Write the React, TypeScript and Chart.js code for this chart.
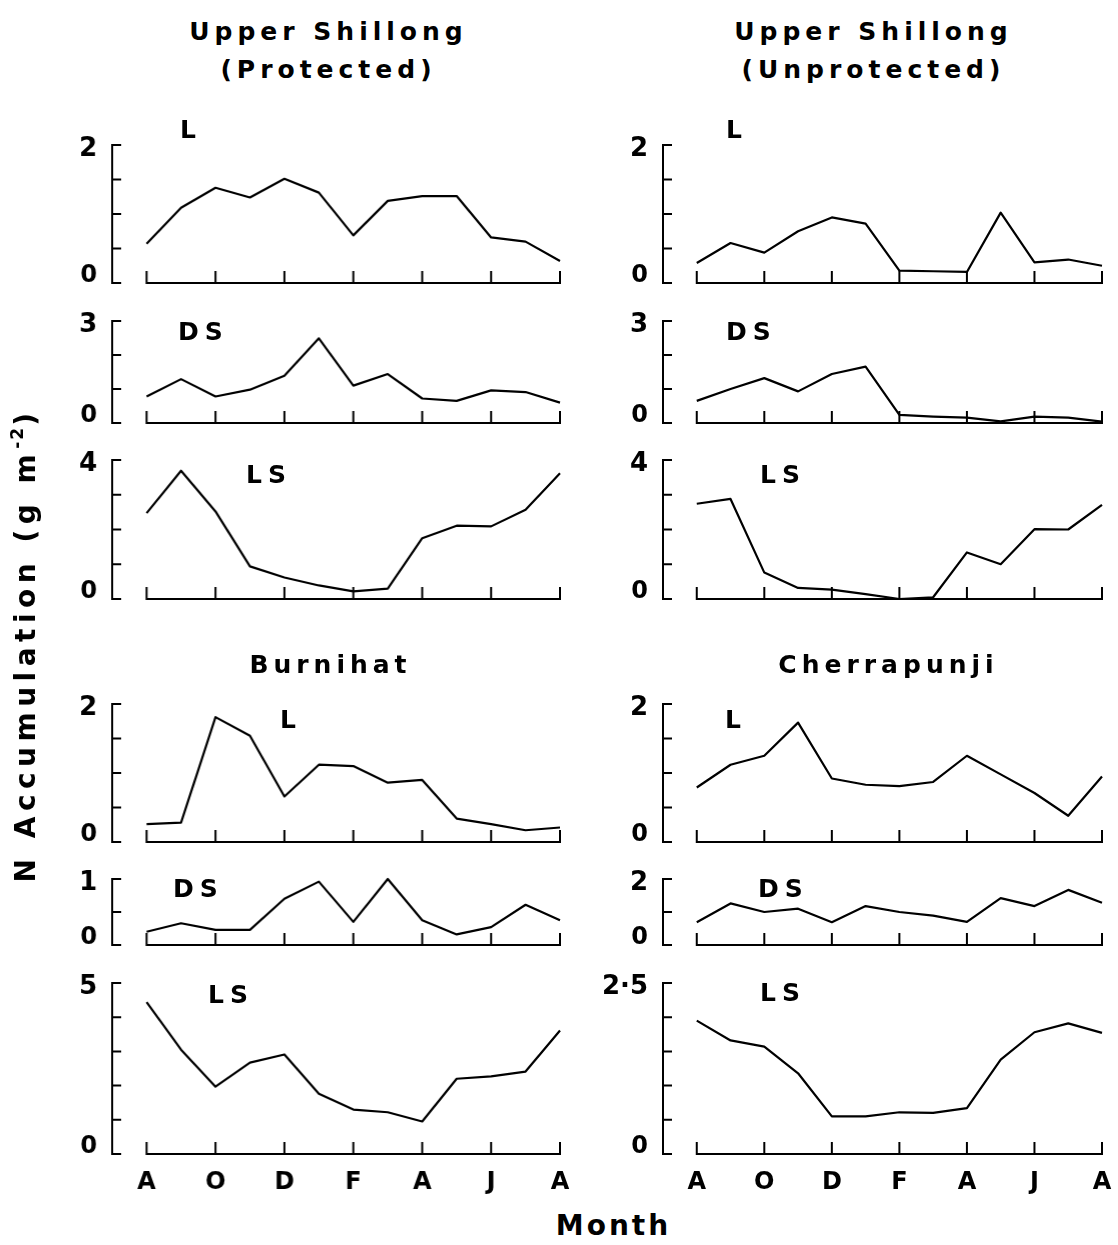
import React, { useEffect, useRef } from 'react';
import { Chart, registerables } from 'chart.js';

Chart.register(...registerables);

// ---------- data ----------
const months = ['A', 'S', 'O', 'N', 'D', 'J', 'F', 'M', 'A', 'M', 'J', 'J', 'A'];
const monthTickIndex = [0, 2, 4, 6, 8, 10, 12];
const siteTitles = [
  ['Upper Shillong', '(Protected)'],
  ['Upper Shillong', '(Unprotected)'],
  ['Burnihat'],
  ['Cherrapunji'],
];
const componentLabels = ['L', 'DS', 'LS'];

const upProtL = [0.57, 1.09, 1.38, 1.24, 1.51, 1.31, 0.69, 1.19, 1.26, 1.26, 0.66, 0.6, 0.32];
const upProtDS = [0.78, 1.29, 0.78, 0.98, 1.39, 2.49, 1.1, 1.44, 0.72, 0.65, 0.96, 0.91, 0.6];
const upProtLS = [2.47, 3.69, 2.52, 0.94, 0.62, 0.39, 0.22, 0.3, 1.75, 2.11, 2.09, 2.57, 3.62];

const upUnprotL = [0.29, 0.58, 0.44, 0.75, 0.95, 0.86, 0.18, 0.17, 0.16, 1.02, 0.3, 0.34, 0.25];
const upUnprotDS = [0.65, 1.0, 1.32, 0.93, 1.44, 1.66, 0.24, 0.19, 0.16, 0.05, 0.19, 0.16, 0.04];
const upUnprotLS = [2.74, 2.88, 0.76, 0.32, 0.27, 0.14, 0.0, 0.05, 1.34, 1.0, 2.01, 2.0, 2.71];

const burL = [0.26, 0.28, 1.81, 1.54, 0.66, 1.12, 1.1, 0.86, 0.9, 0.34, 0.26, 0.17, 0.21];
const burDS = [0.2, 0.33, 0.23, 0.23, 0.7, 0.96, 0.35, 1.0, 0.375, 0.16, 0.27, 0.61, 0.375];
const burLS = [4.44, 3.05, 1.97, 2.67, 2.91, 1.76, 1.3, 1.22, 0.95, 2.2, 2.27, 2.41, 3.61];

const cherL = [0.79, 1.12, 1.25, 1.73, 0.92, 0.83, 0.81, 0.87, 1.25, 0.98, 0.71, 0.38, 0.95];
const cherDS = [0.69, 1.26, 1.0, 1.1, 0.69, 1.18, 1.0, 0.89, 0.7, 1.42, 1.18, 1.67, 1.28];
const cherLS = [1.95, 1.66, 1.57, 1.18, 0.55, 0.55, 0.61, 0.6, 0.67, 1.38, 1.78, 1.91, 1.77];

// axis ranges (max, step) per panel, row-major
const yMaxes = [2, 2, 3, 3, 4, 4, 2, 2, 1, 2, 5, 2.5];
const ySteps = [0.5, 0.5, 1, 1, 1, 1, 0.5, 0.5, 0.5, 1, 1, 0.5];
const seriesList = [upProtL, upUnprotL, upProtDS, upUnprotDS, upProtLS, upUnprotLS, burL, cherL, burDS, cherDS, burLS, cherLS];

// ---------- layout ----------
const FONT = '"DejaVu Sans", "Liberation Sans", sans-serif';
const colAxis = [112, 663];
const colEnd = [559.5, 1102];
const rowTop = [145, 321, 460, 704, 879, 983];
const rowBase = [283, 423, 599, 842, 945, 1154];
const PAD_L = 90;
const PAD_R = 12;
const PAD_T = 24;
const PAD_B = 10;
const XLAB_H = 42;
// panel label [left, capTop], row-major
const labelPos = [
  [182, 120], [728, 120],
  [180, 322], [728, 322],
  [248, 465], [762, 465],
  [282, 710], [727, 710],
  [175, 879], [760, 879],
  [210, 985], [762, 983],
];

const bracketAxes = {
  id: 'bracketAxes',
  afterDraw(chart: any, _args: any, opts: any) {
    const { ctx } = chart;
    const xs = chart.scales.x;
    const ys = chart.scales.y;
    const ax = xs.getPixelForValue(-1);
    const y0 = ys.getPixelForValue(0);
    const yT = ys.getPixelForValue(opts.max);
    ctx.save();
    ctx.strokeStyle = '#000';
    ctx.lineWidth = 2;
    ctx.beginPath();
    ctx.moveTo(ax, yT - 1);
    ctx.lineTo(ax, y0 + 1);
    for (const v of opts.yTicks) {
      const p = ys.getPixelForValue(v);
      ctx.moveTo(ax - 1, p);
      ctx.lineTo(ax + 9, p);
    }
    const x0 = xs.getPixelForValue(0);
    const x1 = xs.getPixelForValue(months.length - 1);
    ctx.moveTo(x0 - 1, y0);
    ctx.lineTo(x1 + 1, y0);
    for (const v of monthTickIndex) {
      const p = xs.getPixelForValue(v);
      ctx.moveTo(p, y0 + 1);
      ctx.lineTo(p, y0 - 12);
    }
    ctx.stroke();
    ctx.fillStyle = '#000';
    ctx.textAlign = 'right';
    ctx.textBaseline = 'alphabetic';
    ctx.font = `bold 26px ${FONT}`;
    ctx.fillText(opts.topLabel, ax - 15, yT + 11);
    ctx.font = `bold 24px ${FONT}`;
    ctx.fillText('0', ax - 15, y0 - 1);
    ctx.restore();
  },
};

function Panel({ idx }: { idx: number }) {
  const ref = useRef<HTMLCanvasElement | null>(null);
  const row = Math.floor(idx / 2);
  const col = idx % 2;
  const bottom = row === 5;
  const left = colAxis[col] - PAD_L;
  const top = rowTop[row] - PAD_T;
  const width = colEnd[col] + PAD_R - left;
  const height = rowBase[row] + PAD_B + (bottom ? XLAB_H : 0) - top;

  useEffect(() => {
    if (!ref.current) return;
    const max = yMaxes[idx];
    const step = ySteps[idx];
    const yTicks: number[] = [];
    for (let k = 0; k * step <= max + 1e-9; k++) yTicks.push(+(k * step).toFixed(3));
    const values = seriesList[idx];
    const chart = new Chart(ref.current, {
      type: 'line',
      data: {
        datasets: [
          {
            data: values.map((v, i) => ({ x: i, y: v })),
            borderColor: '#000',
            borderWidth: 2.2,
            pointRadius: 0,
            tension: 0,
            fill: false,
            clip: false as any,
            borderJoinStyle: 'round',
          },
        ],
      },
      options: {
        animation: false,
        responsive: false,
        devicePixelRatio: 1,
        events: [],
        layout: { padding: { left: PAD_L, right: PAD_R, top: PAD_T, bottom: PAD_B } },
        plugins: {
          legend: { display: false },
          tooltip: { enabled: false },
          bracketAxes: { max, yTicks, topLabel: String(max).replace('.', '·') },
        } as any,
        scales: {
          x: {
            type: 'linear',
            min: -1,
            max: months.length - 1,
            display: bottom,
            grid: { display: false, drawTicks: false },
            border: { display: false },
            afterBuildTicks: (s: any) => {
              s.ticks = monthTickIndex.map((v) => ({ value: v }));
            },
            afterFit: (s: any) => {
              if (bottom) {
                s.height = XLAB_H;
                s.paddingLeft = 0;
                s.paddingRight = 0;
              } else {
                s.height = 0;
              }
            },
            ticks: {
              autoSkip: false,
              maxRotation: 0,
              padding: 14,
              color: '#000',
              font: { family: FONT, size: 24, weight: 'bold' },
              callback: (v: any) => months[v as number] ?? '',
            },
          },
          y: {
            type: 'linear',
            min: 0,
            max,
            display: false,
          },
        },
      },
      plugins: [bracketAxes as any],
    });
    return () => chart.destroy();
  }, [idx]);

  return (
    <canvas
      ref={ref}
      width={width}
      height={height}
      style={{ position: 'absolute', left, top, width, height }}
    />
  );
}

const textBase: React.CSSProperties = {
  position: 'absolute',
  fontFamily: FONT,
  fontWeight: 'bold',
  color: '#000',
  whiteSpace: 'nowrap',
};

export default function App() {
  const titleCenters = [
    [326, 12.5],
    [871, 12.5],
    [328, 646],
    [886, 646],
  ];
  return (
    <div
      style={{
        position: 'absolute',
        left: 0,
        top: 0,
        width: 1118,
        height: 1245,
        background: '#fff',
        overflow: 'hidden',
      }}
    >
      {seriesList.map((_, i) => (
        <Panel key={i} idx={i} />
      ))}
      {siteTitles.map((lines, i) => (
        <div
          key={'t' + i}
          style={{
            ...textBase,
            left: titleCenters[i][0] - 200,
            top: titleCenters[i][1],
            width: 400,
            textAlign: 'center',
            fontSize: 25,
            lineHeight: '38px',
            letterSpacing: 5,
            paddingLeft: 5,
            boxSizing: 'border-box',
          }}
        >
          {lines.map((l, j) => (
            <div key={j}>{l}</div>
          ))}
        </div>
      ))}
      {labelPos.map((p, i) => (
        <div
          key={'l' + i}
          style={{
            ...textBase,
            left: p[0] - 2,
            top: p[1] - 3,
            fontSize: 25,
            lineHeight: '25px',
            letterSpacing: 6,
          }}
        >
          {componentLabels[Math.floor(i / 2) % 3]}
        </div>
      ))}
      <div
        style={{
          ...textBase,
          left: 26 - 270,
          top: 645 - 14,
          width: 540,
          height: 28,
          lineHeight: '28px',
          fontSize: 28,
          letterSpacing: 5.5,
          textAlign: 'center',
          transform: 'rotate(-90deg)',
        }}
      >
        N Accumulation (g m
        <span style={{ fontSize: 17, position: 'relative', top: -12, letterSpacing: 2 }}>-2</span>)
      </div>
      <div
        style={{
          ...textBase,
          left: 612 - 100,
          top: 1212,
          width: 200,
          textAlign: 'center',
          fontSize: 28,
          lineHeight: '28px',
          letterSpacing: 3,
          paddingLeft: 3,
          boxSizing: 'border-box',
        }}
      >
        Month
      </div>
    </div>
  );
}
